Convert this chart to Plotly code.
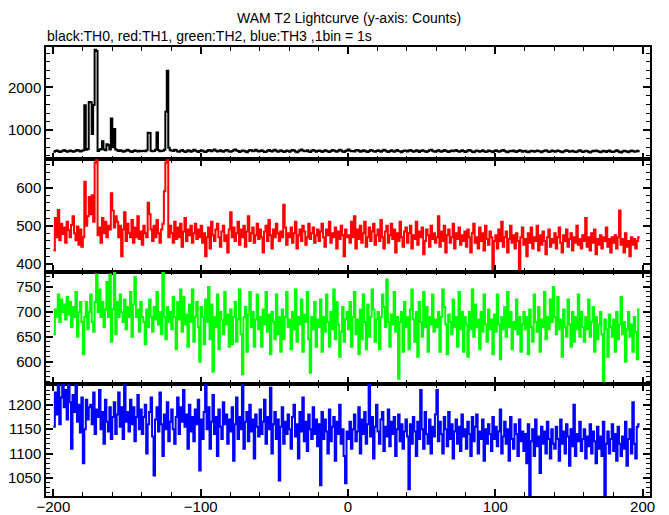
import plotly.graph_objects as go
from plotly.subplots import make_subplots

T_START = -200  # first 1-s bin

# TH0 (black) counts per 1 s bin, from -200 s
th0 = [
    498, 512, 525, 506, 489, 503, 520, 534, 515, 497, 508, 526, 511, 493, 505, 522, 538, 517, 502, 521,
    530, 1585, 540, 560, 1660, 1650, 910, 1590, 2880, 2850, 515, 540, 560, 740, 545, 530, 670, 650, 545, 1275,
    600, 1025, 545, 528, 510, 532, 518, 497, 505, 526, 541, 519, 502, 490, 512, 530, 515, 499, 521, 508,
    510, 520, 505, 530, 940, 935, 520, 505, 515, 540, 945, 530, 505, 510, 520, 540, 1430, 2390, 590, 530,
    525, 512, 540, 528, 503, 495, 518, 535, 510, 488, 502, 530, 519, 497, 512, 541, 526, 505, 492, 515,
    533, 519, 498, 487, 510, 536, 524, 507, 529, 545, 521, 500, 514, 532, 509, 493, 517, 538, 522, 504,
    496, 515, 531, 548, 526, 510, 492, 505, 523, 517, 499, 486, 511, 534, 528, 506, 520, 543, 518, 501,
    512, 530, 507, 489, 498, 521, 537, 515, 502, 526, 544, 519, 497, 508, 531, 514, 490, 503, 527, 511,
    495, 518, 535, 522, 500, 485, 509, 532, 547, 524, 506, 513, 529, 501, 490, 516, 538, 520, 498, 511,
    527, 514, 492, 506, 533, 519, 501, 487, 512, 536, 525, 508, 494, 517, 540, 523, 503, 489, 510, 532,
    546, 521, 505, 513, 499, 528, 539, 516, 495, 507, 531, 518, 502, 488, 511, 534, 522, 509, 493, 515,
    530, 512, 496, 520, 541, 525, 503, 491, 514, 529, 508, 497, 519, 536, 513, 502, 486, 510, 527, 518,
    499, 522, 538, 515, 497, 506, 530, 517, 492, 511, 533, 521, 504, 489, 512, 528, 544, 519, 501, 495,
    516, 531, 509, 493, 510, 534, 520, 500, 487, 513, 527, 505, 518, 538, 514, 496, 507, 529, 511, 490,
    502, 525, 539, 517, 498, 484, 509, 523, 511, 495, 514, 532, 508, 490, 503, 526, 515, 499, 486, 510,
    528, 513, 497, 505, 522, 536, 512, 494, 483, 506, 520, 509, 525, 501, 488, 511, 530, 516, 498, 507,
    519, 496, 484, 503, 521, 512, 493, 508, 527, 515, 499, 482, 505, 518, 531, 509, 491, 500, 523, 512,
    494, 508, 526, 513, 497, 485, 502, 519, 532, 511, 493, 506, 521, 504, 487, 498, 516, 528, 509, 492,
    503, 521, 510, 489, 480, 499, 517, 505, 524, 513, 495, 484, 501, 519, 508, 492, 511, 527, 503, 488,
    497, 515, 528, 506, 490, 479, 502, 520, 511, 494, 486, 508, 523, 510, 493, 501, 518, 505,
]

# TH1 (red)
th1 = [
    435, 520, 470, 541, 462, 505, 478, 495, 455, 510, 488, 470, 502, 525, 480, 462, 498, 450, 490, 445,
    470, 615, 500, 525, 575, 530, 580, 510, 665, 690, 475, 495, 455, 520, 480, 510, 470, 500, 490, 585,
    540, 495, 525, 510, 470, 500, 420, 490, 535, 460, 505, 480, 470, 515, 455, 495, 470, 525, 465, 485,
    450, 500, 480, 470, 560, 530, 490, 460, 500, 470, 515, 480, 455, 490, 505, 590, 665, 680, 470, 500,
    480, 455, 510, 465, 495, 470, 505, 445, 485, 520, 460, 490, 475, 500, 455, 480, 505, 465, 490, 470,
    500, 455, 480, 420, 470, 495, 440, 510, 475, 460, 490, 505, 470, 445, 485, 500, 460, 475, 430, 490,
    535, 470, 495, 460, 480, 510, 450, 490, 470, 500, 445, 485, 525, 460, 480, 495, 455, 475, 505, 465,
    490, 470, 430, 485, 500, 460, 515, 475, 440, 490, 470, 505, 480, 460, 485, 470, 555, 495, 450, 480,
    470, 495, 455, 480, 510, 440, 475, 490, 460, 500, 485, 450, 470, 505, 465, 480, 495, 455, 475, 490,
    460, 485, 505, 470, 445, 490, 475, 510, 455, 480, 470, 495, 440, 485, 465, 500, 475, 420, 490, 470,
    475, 455, 510, 470, 525, 440, 490, 465, 500, 455, 480, 510, 445, 470, 495, 460, 485, 505, 450, 475,
    490, 460, 515, 470, 440, 485, 500, 455, 475, 505, 465, 490, 430, 480, 460, 510, 470, 445, 485, 495,
    455, 480, 500, 440, 475, 465, 510, 450, 485, 470, 495, 425, 460, 490, 475, 445, 500, 465, 480, 455,
    470, 525, 445, 485, 460, 500, 430, 475, 490, 455, 470, 505, 440, 480, 465, 495, 450, 475, 460, 485,
    445, 490, 470, 430, 480, 505, 455, 470, 440, 495, 460, 480, 435, 500, 465, 450, 485, 470, 380, 460,
    475, 440, 490, 460, 510, 445, 470, 485, 430, 465, 500, 455, 475, 440, 480, 460, 385, 470, 495, 450,
    465, 420, 480, 455, 495, 440, 470, 460, 500, 435, 475, 450, 485, 460, 425, 470, 490, 445, 465, 455,
    480, 440, 470, 495, 455, 430, 475, 460, 490, 445, 465, 480, 435, 470, 455, 500, 450, 465, 440, 475,
    460, 520, 445, 470, 435, 480, 455, 490, 425, 465, 450, 475, 440, 470, 460, 495, 445, 465, 430, 470,
    455, 475, 440, 470, 540, 450, 465, 430, 480, 445, 460, 420, 470, 450, 465, 440, 460, 470,
]

# TH2 (green)
th2 = [
    655, 705, 690, 735, 680, 725, 700, 715, 685, 730, 695, 720, 670, 710, 690, 740, 650, 700, 720, 680,
    615, 690, 720, 665, 700, 735, 680, 660, 720, 775, 700, 745, 690, 720, 670, 705, 760, 690, 775, 640,
    705, 780, 655, 720, 690, 735, 700, 680, 725, 665, 710, 690, 740, 650, 715, 770, 690, 705, 660, 720,
    690, 680, 635, 705, 670, 725, 690, 660, 710, 685, 740, 675, 700, 655, 780, 690, 645, 710, 680, 700,
    665, 730, 690, 625, 720, 685, 745, 660, 730, 675, 695, 630, 715, 680, 745, 640, 690, 720, 670, 600,
    710, 690, 635, 725, 680, 750, 645, 715, 580, 690, 670, 735, 625, 700, 685, 655, 740, 675, 695, 630,
    705, 635, 690, 720, 640, 685, 745, 655, 575, 690, 710, 620, 695, 740, 670, 700, 630, 685, 735, 665,
    690, 630, 705, 675, 740, 660, 695, 615, 700, 680, 645, 735, 655, 690, 620, 705, 645, 690, 740, 670,
    685, 625, 700, 665, 745, 640, 690, 675, 725, 620, 695, 680, 740, 645, 578, 690, 665, 720, 630, 685,
    670, 725, 620, 690, 660, 735, 680, 630, 700, 665, 745, 645, 720, 675, 610, 660, 710, 640, 685, 700,
    665, 720, 630, 690, 740, 655, 685, 615, 705, 645, 735, 680, 625, 715, 650, 690, 745, 705, 640, 685,
    700, 625, 690, 735, 710, 670, 765, 680, 630, 695, 675, 740, 660, 690, 566, 680, 700, 620, 720, 670,
    690, 625, 705, 745, 685, 640, 700, 610, 720, 680, 650, 740, 670, 710, 620, 690, 675, 735, 660, 685,
    670, 700, 620, 690, 745, 710, 675, 615, 695, 680, 655, 725, 670, 690, 630, 740, 665, 700, 620, 690,
    675, 610, 700, 665, 745, 650, 715, 670, 685, 625, 700, 660, 735, 675, 640, 705, 665, 685, 615, 695,
    660, 735, 675, 605, 690, 665, 710, 650, 740, 670, 700, 625, 680, 665, 725, 655, 690, 620, 675, 700,
    665, 690, 615, 705, 670, 640, 735, 680, 660, 710, 620, 685, 670, 740, 645, 690, 665, 725, 680, 750,
    690, 655, 730, 665, 685, 610, 705, 670, 650, 725, 675, 630, 700, 640, 690, 665, 735, 650, 700, 670,
    640, 690, 665, 725, 650, 680, 710, 620, 690, 645, 675, 700, 655, 561, 685, 665, 610, 695, 670, 650,
    685, 620, 700, 645, 675, 730, 655, 680, 600, 665, 700, 650, 675, 620, 690, 660, 605, 705,
]

# TH3 (blue)
th3 = [
    1155, 1225, 1180, 1240, 1160, 1215, 1243, 1195, 1230, 1170, 1243, 1205, 1110, 1220, 1185, 1240, 1165, 1200, 1143, 1215,
    1080, 1150, 1210, 1170, 1195, 1200, 1160, 1225, 1140, 1190, 1175, 1230, 1150, 1185, 1120, 1210, 1165, 1145, 1195, 1130,
    1175, 1205, 1140, 1180, 1225, 1155, 1195, 1130, 1240, 1165, 1185, 1145, 1210, 1160, 1195, 1125, 1175, 1220, 1150, 1190,
    1140, 1175, 1200, 1100, 1160, 1185, 1215, 1135, 1055, 1170, 1195, 1145, 1225, 1160, 1095, 1180, 1150, 1205, 1125, 1165,
    1190, 1150, 1120, 1175, 1215, 1140, 1195, 1165, 1230, 1155, 1180, 1110, 1200, 1145, 1175, 1125, 1190, 1160, 1210, 1065,
    1170, 1130, 1185, 1240, 1150, 1195, 1110, 1165, 1220, 1140, 1175, 1095, 1190, 1155, 1130, 1205, 1160, 1180, 1120, 1170,
    1145, 1195, 1085, 1160, 1215, 1130, 1175, 1150, 1240, 1110, 1165, 1185, 1125, 1200, 1145, 1170, 1090, 1180, 1155, 1135,
    1190, 1140, 1165, 1210, 1120, 1175, 1150, 1235, 1100, 1160, 1185, 1130, 1170, 1045, 1155, 1195, 1120, 1165, 1140, 1180,
    1150, 1110, 1175, 1200, 1135, 1160, 1090, 1185, 1145, 1215, 1125, 1165, 1105, 1180, 1150, 1130, 1195, 1140, 1170, 1115,
    1160, 1035, 1185, 1130, 1170, 1145, 1100, 1190, 1125, 1155, 1175, 1085, 1165, 1140, 1200, 1120, 1150, 1095, 1039, 1145,
    1130, 1165, 1110, 1150, 1180, 1125, 1145, 1195, 1100, 1170, 1140, 1185, 1120, 1160, 1243, 1135, 1175, 1090, 1155, 1200,
    1145, 1120, 1170, 1185, 1105, 1155, 1135, 1190, 1115, 1165, 1140, 1175, 1095, 1150, 1180, 1125, 1160, 1110, 1145, 1170,
    1135, 1027, 1160, 1120, 1175, 1145, 1095, 1165, 1130, 1230, 1150, 1110, 1185, 1140, 1120, 1170, 1100, 1155, 1135, 1180,
    1230, 1125, 1165, 1140, 1100, 1175, 1150, 1115, 1185, 1130, 1160, 1090, 1145, 1170, 1120, 1155, 1105, 1180, 1135, 1150,
    1110, 1165, 1140, 1095, 1175, 1125, 1155, 1180, 1100, 1145, 1130, 1170, 1085, 1150, 1120, 1160, 1140, 1105, 1175, 1130,
    1155, 1115, 1145, 1190, 1100, 1135, 1165, 1120, 1150, 1085, 1175, 1130, 1110, 1160, 1140, 1095, 1170, 1125, 1145, 1105,
    1140, 1080, 1160, 1013, 1125, 1150, 1095, 1170, 1115, 1135, 1060, 1155, 1120, 1145, 1100, 1165, 1130, 1090, 1150, 1120,
    1110, 1155, 1130, 1085, 1170, 1120, 1145, 1100, 1160, 1135, 1075, 1150, 1115, 1200, 1095, 1140, 1125, 1165, 1105, 1130,
    1150, 1090, 1135, 1115, 1160, 1100, 1145, 1125, 1080, 1155, 1110, 1135, 1095, 1165, 1015, 1120, 1145, 1100, 1130, 1160,
    1105, 1140, 1085, 1155, 1120, 1095, 1135, 1110, 1165, 1075, 1130, 1150, 1100, 1205, 1120, 1090, 1155, 1160,
]

series = [("TH0", th0, "#000000"), ("TH1", th1, "#ff0000"),
          ("TH2", th2, "#00ff00"), ("TH3", th3, "#0000ff")]

y_ranges = [[320, 2944], [380, 674], [556, 781], [1013, 1243]]
y_major = [1000, 100, 50, 50]
y_minor = [200, 20, 10, 10]

FONT = "Liberation Sans, Arial, Helvetica, sans-serif"

fig = make_subplots(rows=4, cols=1, shared_xaxes=True, vertical_spacing=0)

for i, (name, vals, col) in enumerate(series, start=1):
    t = [T_START + k for k in range(len(vals))]
    x_edges = t + [t[-1] + 1]
    y_edges = list(vals) + [vals[-1]]
    fig.add_trace(go.Scatter(x=x_edges, y=y_edges, mode="lines", name=name,
                             line=dict(color=col, width=2, shape="hv"),
                             showlegend=False, hoverinfo="skip"), row=i, col=1)

axis_common = dict(showline=True, linecolor="black", linewidth=1.5, mirror="allticks",
                   ticks="inside", ticklen=7, tickwidth=2, tickcolor="black",
                   showgrid=False, zeroline=False, automargin=False,
                   tickfont=dict(family=FONT, size=15, color="black"))

for i in range(1, 5):
    fig.update_xaxes(range=[-205, 205], dtick=100, tick0=0,
                     minor=dict(dtick=20, tick0=0, ticks="inside", ticklen=4,
                                tickwidth=1, tickcolor="black", showgrid=False),
                     showticklabels=(i == 4), ticklabelstandoff=-4,
                     row=i, col=1, **axis_common)
    fig.update_yaxes(range=y_ranges[i - 1], dtick=y_major[i - 1], tick0=0,
                     minor=dict(dtick=y_minor[i - 1], tick0=0, ticks="inside", ticklen=4,
                                tickwidth=1, tickcolor="black", showgrid=False),
                     row=i, col=1, **axis_common)

fig.update_layout(
    width=669, height=515,
    margin=dict(l=46, r=19, t=47, b=19, pad=0),
    paper_bgcolor="white", plot_bgcolor="white",
    font=dict(family=FONT, size=14, color="black"),
    annotations=[
        dict(text="WAM T2 Lightcurve (y-axis: Counts)", xref="paper", yref="paper",
             x=0.502, y=1 + (47 - 18) / 449, xanchor="center", yanchor="middle",
             showarrow=False, font=dict(family=FONT, size=14)),
        dict(text="black:TH0, red:TH1, green:TH2, blue:TH3 ,1bin = 1s", xref="paper", yref="paper",
             x=-0.002, y=1 + (47 - 36) / 449, xanchor="left", yanchor="middle",
             showarrow=False, font=dict(family=FONT, size=14)),
    ],
)

fig.write_html("out.html", config={"displayModeBar": False},
               post_script="document.body.style.margin='0';")
